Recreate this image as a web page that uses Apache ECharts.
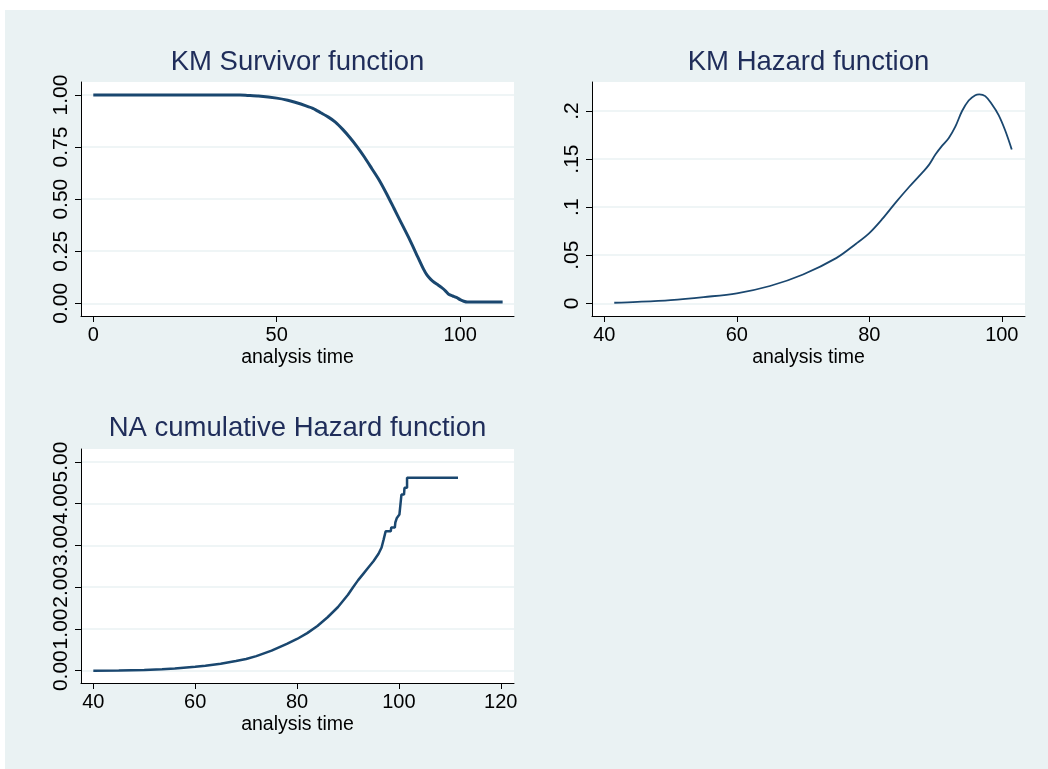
<!DOCTYPE html>
<html>
<head>
<meta charset="utf-8">
<script src="https://cdn.jsdelivr.net/npm/echarts@6/dist/echarts.min.js"></script>
<style>
  html, body { margin: 0; padding: 0; background: #ffffff; }
  #bg { position: absolute; left: 5px; top: 10px; width: 1043px; height: 759px; background: #eaf2f3; }
  #chart { position: absolute; left: 0; top: 0; width: 1048px; height: 769px; }
</style>
</head>
<body>
<div id="bg"></div>
<div id="chart"></div>
<script>
// ---- Data ----
const panelTitles = ['KM Survivor function', 'KM Hazard function', 'NA cumulative Hazard function'];
const xAxisTitle = 'analysis time';

// KM survivor function
const survTime = [0, 40, 42, 45, 50, 53, 55, 58, 60, 62, 64, 66, 68, 70, 72, 74, 76, 78, 80, 82, 84, 86, 88, 90, 91, 92, 93, 94, 95, 96, 97, 98, 99, 100, 101, 102, 111.6];
const survProb = [1, 1, 0.998, 0.995, 0.985, 0.975, 0.965, 0.948, 0.935, 0.915, 0.895, 0.87, 0.835, 0.795, 0.75, 0.70, 0.645, 0.59, 0.525, 0.455, 0.385, 0.315, 0.24, 0.165, 0.135, 0.115, 0.10, 0.088, 0.075, 0.06, 0.042, 0.035, 0.028, 0.018, 0.01, 0.006, 0.006];
const survXTicks = [0, 50, 100];
const survYTicks = [0, 0.25, 0.5, 0.75, 1];

// Smoothed hazard function
const hazTime = [41.5, 45, 50, 55, 60, 65, 70, 75, 78, 80, 82, 84, 86, 88, 89, 90, 91, 92, 93, 94, 95, 96, 96.6, 97.5, 98.5, 99.5, 100.5, 101.5];
const hazVal  = [0.0006, 0.0015, 0.0034, 0.0065, 0.0104, 0.018, 0.030, 0.047, 0.062, 0.073, 0.088, 0.105, 0.121, 0.136, 0.144, 0.155, 0.164, 0.172, 0.184, 0.200, 0.211, 0.2165, 0.2173, 0.2155, 0.207, 0.196, 0.180, 0.160];
const hazXTicks = [40, 60, 80, 100];
const hazYTicks = [0, 0.05, 0.1, 0.15, 0.2];

// Nelson-Aalen cumulative hazard
const naTime = [40, 45, 50, 53.5, 56, 60, 62, 65, 68, 70, 72, 75, 78, 80, 82, 84, 86, 88, 90, 91, 92, 93, 94, 95, 96, 96.6, 97.0, 97.4, 98.4, 98.5, 99.2, 99.3, 99.6, 100.1, 100.2, 100.4, 100.5, 101.0, 101.1, 101.6, 101.6, 111.6];
const naVal  = [0, 0.005, 0.015, 0.034, 0.055, 0.096, 0.12, 0.165, 0.23, 0.28, 0.35, 0.48, 0.64, 0.76, 0.90, 1.07, 1.28, 1.52, 1.82, 2.0, 2.17, 2.32, 2.47, 2.62, 2.8, 2.95, 3.14, 3.34, 3.34, 3.43, 3.43, 3.55, 3.66, 3.74, 3.86, 3.86, 4.22, 4.22, 4.38, 4.38, 4.62, 4.62];
const naXTicks = [40, 60, 80, 100, 120];
const naYTicks = [0, 1, 2, 3, 4, 5];

// ---- Styling ----
const LINE = '#1a476f';
const TITLE = '#1f2d5a';
const GRIDC = '#eaf2f3';
const FONT = '"Liberation Sans", Arial, Helvetica, sans-serif';

const zip = (a, b) => a.map((v, i) => [v, b[i]]);

function xAxisCfg(idx, min, max, ticks) {
  return {
    type: 'value', gridIndex: idx, min: min, max: max,
    name: xAxisTitle, nameLocation: 'middle', nameGap: 32,
    nameTextStyle: { color: '#000', fontSize: 19.5, fontFamily: FONT },
    axisLine: { show: true, onZero: false, lineStyle: { color: '#000', width: 1 } },
    axisTick: { show: true, length: 6, customValues: ticks, lineStyle: { color: '#000' } },
    axisLabel: { customValues: ticks, color: '#000', fontSize: 20, fontFamily: FONT, margin: 9 },
    splitLine: { show: false }
  };
}
function yAxisCfg(idx, min, max, ticks, fmt) {
  return {
    type: 'value', gridIndex: idx, min: min, max: max,
    axisLine: { show: true, onZero: false, lineStyle: { color: '#000', width: 1 } },
    axisTick: { show: true, length: 6, customValues: ticks, lineStyle: { color: '#000' } },
    axisLabel: { customValues: ticks, rotate: 90, color: '#000', fontSize: 21, fontFamily: FONT, margin: 9, formatter: fmt },
    splitLine: { show: true, lineStyle: { color: GRIDC, width: 1.5 } }
  };
}

const chart = echarts.init(document.getElementById('chart'), null, { renderer: 'canvas' });
const option = {
  backgroundColor: 'transparent',
  animation: false,
  grid: [
    { left: 81, top: 82, width: 433, height: 234, show: true, backgroundColor: '#ffffff', borderWidth: 0 },
    { left: 592, top: 82, width: 433, height: 234, show: true, backgroundColor: '#ffffff', borderWidth: 0 },
    { left: 81, top: 449, width: 433, height: 234, show: true, backgroundColor: '#ffffff', borderWidth: 0 }
  ],
  xAxis: [
    xAxisCfg(0, -3.35, 114.7, survXTicks),
    xAxisCfg(1, 38.14, 103.5, hazXTicks),
    xAxisCfg(2, 37.58, 122.6, naXTicks)
  ],
  yAxis: [
    yAxisCfg(0, -0.061, 1.0624, survYTicks, v => v.toFixed(2)),
    yAxisCfg(1, -0.0132, 0.2302, hazYTicks, v => v === 0 ? '0' : String(+v.toFixed(2)).replace(/^0/, '')),
    yAxisCfg(2, -0.295, 5.311, naYTicks, v => v.toFixed(2))
  ],
  graphic: [
    { type: 'text', x: 297.5, y: 62, style: { text: panelTitles[0], fill: TITLE, font: '27.5px ' + FONT, textAlign: 'center', textVerticalAlign: 'middle' } },
    { type: 'text', x: 808.5, y: 62, style: { text: panelTitles[1], fill: TITLE, font: '27.5px ' + FONT, textAlign: 'center', textVerticalAlign: 'middle' } },
    { type: 'text', x: 297.5, y: 428, style: { text: panelTitles[2], fill: TITLE, font: '27.5px ' + FONT, textAlign: 'center', textVerticalAlign: 'middle' } }
  ],
  series: [
    { type: 'line', xAxisIndex: 0, yAxisIndex: 0, data: zip(survTime, survProb), showSymbol: false, smooth: 0.2,
      lineStyle: { color: LINE, width: 3 } },
    { type: 'line', xAxisIndex: 1, yAxisIndex: 1, data: zip(hazTime, hazVal), showSymbol: false, smooth: 0.35,
      lineStyle: { color: LINE, width: 1.8 } },
    { type: 'line', xAxisIndex: 2, yAxisIndex: 2, data: zip(naTime, naVal), showSymbol: false,
      lineStyle: { color: LINE, width: 2.5 } }
  ]
};
chart.setOption(option);
</script>
</body>
</html>
